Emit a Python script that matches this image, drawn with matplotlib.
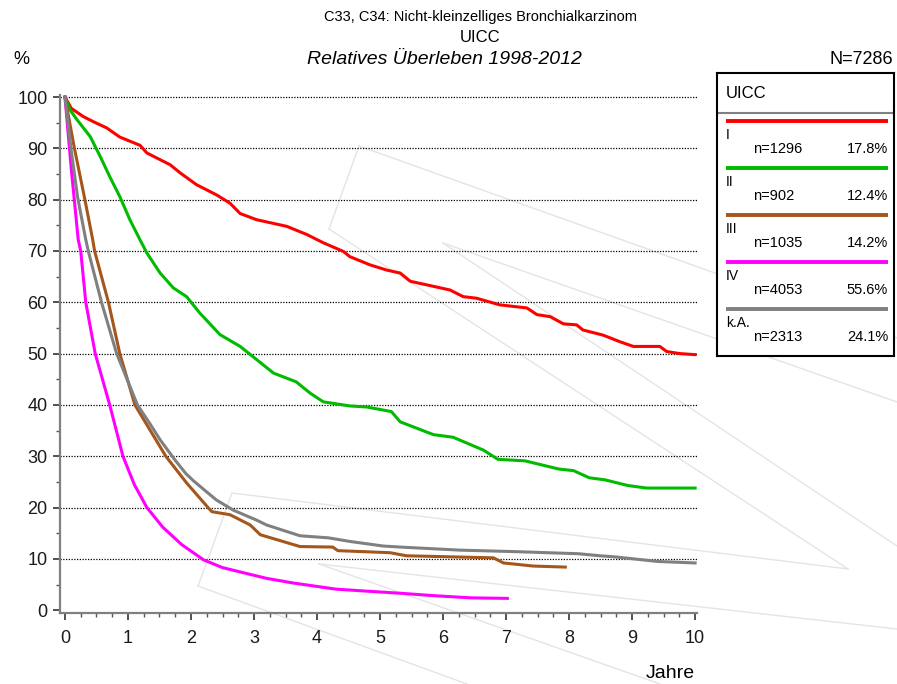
import numpy as np
import matplotlib
matplotlib.use("Agg")
import matplotlib.pyplot as plt
from matplotlib.lines import Line2D

plt.rcParams['font.family'] = ['Liberation Sans', 'DejaVu Sans']

# survival curves, years vs relative survival in %
x_I = [0, 0.1, 0.29, 0.45, 0.66, 0.87, 1.19, 1.3, 1.67, 1.83, 2.09, 2.41, 2.62, 2.78, 3.04, 3.52,
       3.84, 4.1, 4.42, 4.52, 4.84, 5.1, 5.32, 5.48, 5.74, 6.11, 6.32, 6.53, 6.9, 7.33, 7.49, 7.7,
       7.91, 8.12, 8.22, 8.54, 8.81, 9.02, 9.44, 9.55, 9.76, 10]
y_I = [100, 97.8, 96.2, 95.2, 94, 92.2, 90.6, 89.1, 86.8, 85.2, 82.9, 80.9, 79.3, 77.3, 76.1, 74.8,
       73.2, 71.6, 69.9, 68.9, 67.3, 66.3, 65.7, 64.1, 63.4, 62.4, 61.1, 60.8, 59.5, 58.9, 57.6, 57.2,
       55.8, 55.6, 54.6, 53.6, 52.3, 51.4, 51.4, 50.4, 50, 49.8]

x_II = [0, 0.08, 0.19, 0.4, 0.56, 0.71, 0.87, 1.03, 1.19, 1.3, 1.51, 1.72, 1.93, 2.14, 2.46, 2.78,
        3.31, 3.67, 3.89, 4.1, 4.52, 4.79, 5.18, 5.32, 5.85, 6.16, 6.64, 6.87, 7.3, 7.84, 8.07, 8.32,
        8.57, 8.93, 9.23, 10]
y_II = [100, 97.5, 95.6, 92.3, 88.4, 84.5, 80.6, 76.1, 72.2, 69.6, 65.7, 62.8, 61.1, 57.9, 53.7, 51.4,
        46.2, 44.5, 42.3, 40.6, 39.8, 39.6, 38.7, 36.7, 34.2, 33.7, 31.2, 29.4, 29.1, 27.5, 27.2, 25.8,
        25.4, 24.3, 23.8, 23.8]

x_III = [0, 0.15, 0.3, 0.44, 0.47, 0.69, 0.87, 1.11, 1.35, 1.6, 1.93, 2.27, 2.33, 2.62, 2.94, 3.1,
         3.73, 4.25, 4.33, 5.16, 5.42, 6.8, 6.96, 7.43, 7.94]
y_III = [100, 90, 81, 72.2, 70, 60, 50, 40, 35.1, 30, 24.8, 20, 19.2, 18.6, 16.6, 14.7,
         12.4, 12.3, 11.6, 11.2, 10.6, 10.2, 9.2, 8.6, 8.4]

x_IV = [0, 0.1, 0.21, 0.25, 0.33, 0.48, 0.71, 0.92, 1.1, 1.3, 1.55, 1.85, 2.2, 2.5, 2.83, 3.2,
        3.62, 4.3, 4.8, 5.32, 5.89, 6.45, 7.02]
y_IV = [100, 86, 72.2, 70, 60, 50, 40, 30, 24.5, 20, 16.2, 12.8, 9.8, 8.3, 7.3, 6.2,
        5.3, 4.1, 3.7, 3.3, 2.8, 2.4, 2.3]

x_kA = [0, 0.1, 0.2, 0.33, 0.37, 0.58, 0.82, 1.15, 1.35, 1.51, 1.75, 1.92, 2.04, 2.4, 2.67, 3.05, 3.2,
        3.73, 4.18, 4.52, 5.05, 5.32, 6.27, 7.17, 8.15, 8.49, 8.72, 9.4, 10]
y_kA = [100, 89.5, 80.5, 72.2, 70, 60, 50, 40, 36.3, 33.2, 29.2, 26.6, 25.2, 21.5, 19.5, 17.5, 16.6,
        14.5, 14.1, 13.4, 12.5, 12.3, 11.7, 11.4, 11, 10.6, 10.4, 9.5, 9.2]

groups = ['I', 'II', 'III', 'IV', 'k.A.']
counts = [1296, 902, 1035, 4053, 2313]
percents = ['17.8%', '12.4%', '14.2%', '55.6%', '24.1%']
colors = ['#ff0000', '#00bb00', '#a5561b', '#ff00ff', '#808080']
curves = [(x_I, y_I), (x_II, y_II), (x_III, y_III), (x_IV, y_IV), (x_kA, y_kA)]

W, H = 897, 684
fig = plt.figure(figsize=(W / 100, H / 100), dpi=100)

def px(x, y):
    return x / W, 1 - y / H

# faint background watermark strokes
wm = [((359, 146), (329, 229)), ((359, 146), (897, 338)), ((329, 229), (848, 569)),
      ((232, 493), (848, 569)), ((232, 493), (198, 586)), ((198, 586), (467, 684)),
      ((319, 564), (897, 629)), ((319, 564), (660, 684)), ((443, 243), (897, 402)),
      ((443, 243), (897, 546))]
for a, b in wm:
    p, q = px(*a), px(*b)
    fig.add_artist(Line2D([p[0], q[0]], [p[1], q[1]], transform=fig.transFigure,
                          color='#e4e4e4', lw=1.0, zorder=-5))

ax = fig.add_axes([60 / W, 1 - 613 / H, 637 / W, 518 / H])
ax.patch.set_alpha(0)
ax.set_xlim(-0.079, 10.03)
ax.set_ylim(-0.55, 100.4)

for yv in range(10, 101, 10):
    ax.axhline(yv, color='black', lw=0.9, ls=(0, (1, 1.2)), zorder=1)

for (xs, ys), c in zip(curves, colors):
    ax.plot(xs, ys, color=c, lw=2.2, zorder=3, solid_joinstyle='round')

for s in ['top', 'right']:
    ax.spines[s].set_visible(False)
for s in ['left', 'bottom']:
    ax.spines[s].set_color('#808080')
    ax.spines[s].set_linewidth(1.6)

ax.set_xticks(range(0, 11))
ax.set_xticks(np.arange(0, 10.01, 0.25), minor=True)
ax.set_yticks(range(0, 101, 10))
ax.set_yticks(range(5, 100, 10), minor=True)
ax.tick_params(axis='both', which='major', length=5, width=1.2, color='#333333',
               labelsize=13, labelcolor='#1a1a1a')
ax.tick_params(axis='both', which='minor', length=3, width=1.0, color='#555555')
ax.tick_params(axis='x', which='major', pad=7)
ax.tick_params(axis='y', which='major', pad=4)

# titles and labels
fig.text(480 / W, 1 - 17 / H, 'C33, C34: Nicht-kleinzelliges Bronchialkarzinom', ha='center',
         va='center', fontsize=10.5)
fig.text(480 / W, 1 - 38 / H, 'UICC', ha='center', va='center', fontsize=12)
fig.text(444 / W, 1 - 59 / H, 'Relatives Überleben 1998-2012', ha='center', va='center',
         fontsize=14, style='italic')
fig.text(13 / W, 1 - 60 / H, '%', ha='left', va='center', fontsize=13)
fig.text(893 / W, 1 - 60 / H, 'N=7286', ha='right', va='center', fontsize=13)
fig.text(695 / W, 1 - 674 / H, 'Jahre', ha='right', va='center', fontsize=14)

# legend box
lg = fig.add_axes([717 / W, 1 - 356 / H, 177 / W, 283 / H])
lg.set_xlim(0, 177)
lg.set_ylim(283, 0)
lg.set_xticks([])
lg.set_yticks([])
for s in lg.spines.values():
    s.set_linewidth(1.5)
    s.set_color('black')
lg.text(9, 20, 'UICC', ha='left', va='center', fontsize=12)
lg.plot([0, 177], [40, 40], color='#808080', lw=1.5)
for i, (g, n, p, c) in enumerate(zip(groups, counts, percents, colors)):
    y0 = 48 + 47 * i
    lg.plot([9, 171], [y0, y0], color=c, lw=2.8, solid_capstyle='butt')
    lg.text(9, y0 + 14, g, ha='left', va='center', fontsize=10)
    lg.text(36, y0 + 28, 'n=%d' % n, ha='left', va='center', fontsize=10.5)
    lg.text(171, y0 + 28, p, ha='right', va='center', fontsize=10.5)

fig.savefig('out.png', dpi=100)
